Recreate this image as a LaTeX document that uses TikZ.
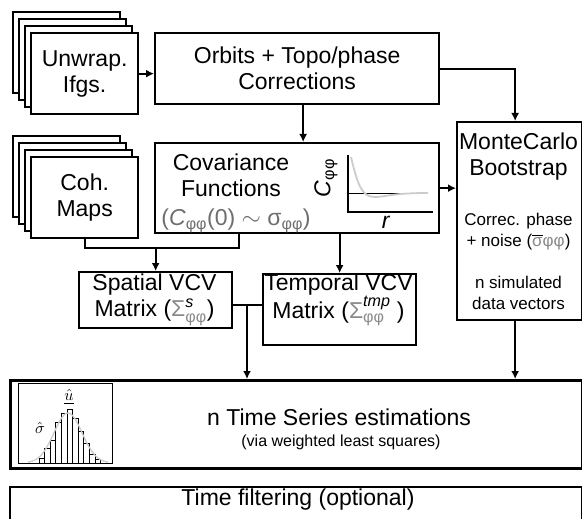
\documentclass[tikz,border=0pt]{standalone}
\usepackage{fontspec}
\setmainfont{Liberation Sans}
\usepackage{amsmath}
\usetikzlibrary{arrows.meta, positioning}
\usepackage{xcolor}
\definecolor{CurveGray}{HTML}{CCCCCC}
\definecolor{NoteGray}{HTML}{6E6E6E}
\definecolor{SubGray}{HTML}{8A8A8A}
\newcommand{\boxfont}{\fontsize{23}{26}\selectfont}
\newcommand{\notefont}{\fontsize{17}{21}\selectfont}
\newcommand{\ff}{\textcolor{SubGray}{φφ}}

\begin{document}
\begin{tikzpicture}[x=1pt, y=-1pt,
                blk/.style={draw, line width=2.3pt, fill=white, inner sep=0pt, anchor=north west},
                lbl/.style={font=\boxfont, align=center, inner sep=0pt},
                note/.style={font=\notefont, align=center, inner sep=0pt},
                wire/.style={line width=2.2pt},
                conn/.style={wire, -{Latex[length=8pt, width=8pt]}}
            ]
                \useasboundingbox (0,0) rectangle (582,519);

                % Stacked inputs
                \foreach \k in {3,2,1} {
                    \node[blk, minimum width=107, minimum height=81] (uw\k) at ({30-6*\k},{32-7*\k}) {};
                    \node[blk, minimum width=107, minimum height=81] (ch\k) at ({30-6*\k},{156-7*\k}) {};
                }
                \node[blk, minimum width=107, minimum height=81, lbl] (unwrap) at (30,32) {Unwrap.\\Ifgs.};
                \node[blk, minimum width=107, minimum height=81, lbl] (coh) at (30,156) {Coh.\\Maps};

                % Main boxes
                \node[blk, minimum width=284, minimum height=71, lbl] (orbits) at (154,32) {Orbits + Topo/phase\\Corrections};
                \node[blk, minimum width=284, minimum height=90] (cov) at (154,142) {};
                \node[blk, minimum width=125, minimum height=198] (mc) at (456,121) {};
                \node[blk, minimum width=153, minimum height=56] (spatial) at (78,271) {};
                \node[blk, minimum width=153, minimum height=71] (temporal) at (262,273) {};
                \node[blk, minimum width=572, minimum height=88, line width=2.6pt] (ts) at (9,379) {};
                \node[blk, minimum width=572, minimum height=40] (tf) at (9,486) {};

                % Texts
                \node[lbl] (covtxt) at (231,175) {Covariance\\Functions};
                \node[lbl, text=NoteGray] (covnote) at (236,221) {(\textit{C}\textsubscript{φφ}(0) $\sim$ σ\textsubscript{φφ})};
                \node[lbl] (mctitle) at (518.5,156.5) {MonteCarlo\\Bootstrap};
                \node[note] (mcnoise) at (518.5,232) {Correc. phase\\+ noise ($\overline{\text{\textcolor{SubGray}{σ}}}$\ff)};
                \node[note] (mcsim) at (518.5,293) {n simulated\\data vectors};
                \node[lbl] (sptxt) at (154.5,300) {Spatial VCV\\Matrix ($\text{\textcolor{SubGray}{Σ}}^{\text{\itshape s}}_{\text{\ff}}$)};
                \node[lbl] (tmtxt) at (338.5,300) {Temporal VCV\\Matrix ($\text{\textcolor{SubGray}{Σ}}^{\text{\itshape tmp}}_{\text{\ff}}$ )};
                \node[lbl] (tstxt) at (339,417) {n Time Series estimations};
                \node[font=\fontsize{16}{18}\selectfont, inner sep=0pt] (tsnote) at (341,442) {(via weighted least squares)};
                \node[lbl] (tftxt) at (298,500) {Time filtering (optional)};

                % Covariance inset
                \draw[wire] (348,155) -- (348,212) -- (433,212);
                \draw[line width=0.9pt] (348,193) -- (428,193);
                \draw[CurveGray, line width=1.8pt] (351,157) .. controls (358,186) and (362,197) .. (375,197)
                    .. controls (385,197) and (392,193) .. (428,193);
                \node[lbl, rotate=90] (cphi) at (326,178) {\textit{C}\textsubscript{φφ}};
                \node[lbl] (rlbl) at (386,222) {\textit{r}};

                % Histogram inset
                \node[draw, line width=1pt, inner sep=0pt, anchor=north west, minimum width=94, minimum height=80] (hist) at (18,383) {};
                \foreach \h [count=\i] in {5,15,23,41,50,54,45,32,20,9,4} {
                    \draw[line width=0.9pt, fill=white] ({33.4+5.6*\i},463) rectangle ++(5.6,-\h);
                }
                \draw[CurveGray, line width=1.3pt] plot[domain=28:108, samples=60, smooth] (\x, {463-50*exp(-((\x-68)^2)/(2*14^2))});
                \node[scale=1.6, inner sep=0pt] (uhat) at (69,397) {$\underline{\hat{u}}$};
                \node[scale=1.6, inner sep=0pt] (sighat) at (40,428) {$\hat{\sigma}$};

                % Connections
                \draw[conn] (unwrap.east) -- (orbits.west |- unwrap.east);
                \draw[conn] (orbits.east) -| ([xshift=-4.5pt]mc.north);
                \draw[conn] ([xshift=6pt]orbits.south) -- ([xshift=6pt]cov.north);
                \draw[conn] (cov.east) -- (mc.west |- cov.east);
                \draw[conn] (cov.south -| temporal.north) -- (temporal.north);
                \path (spatial.north) ++(0,-23) coordinate (cohj);
                \draw[wire] (coh.south) |- ([xshift=-58pt]cov.south |- cohj) -- ([xshift=-58pt]cov.south);
                \draw[conn] (cohj) -- (spatial.north);
                \coordinate (vj) at (247,305);
                \draw[wire] (spatial.east |- vj) -- (temporal.west |- vj);
                \draw[conn] (vj) -- (ts.north -| vj);
                \coordinate (mcout) at ([xshift=-4.5pt]mc.south);
                \draw[conn] (mcout) -- (mcout |- ts.north);
            \end{tikzpicture}
\end{document}
